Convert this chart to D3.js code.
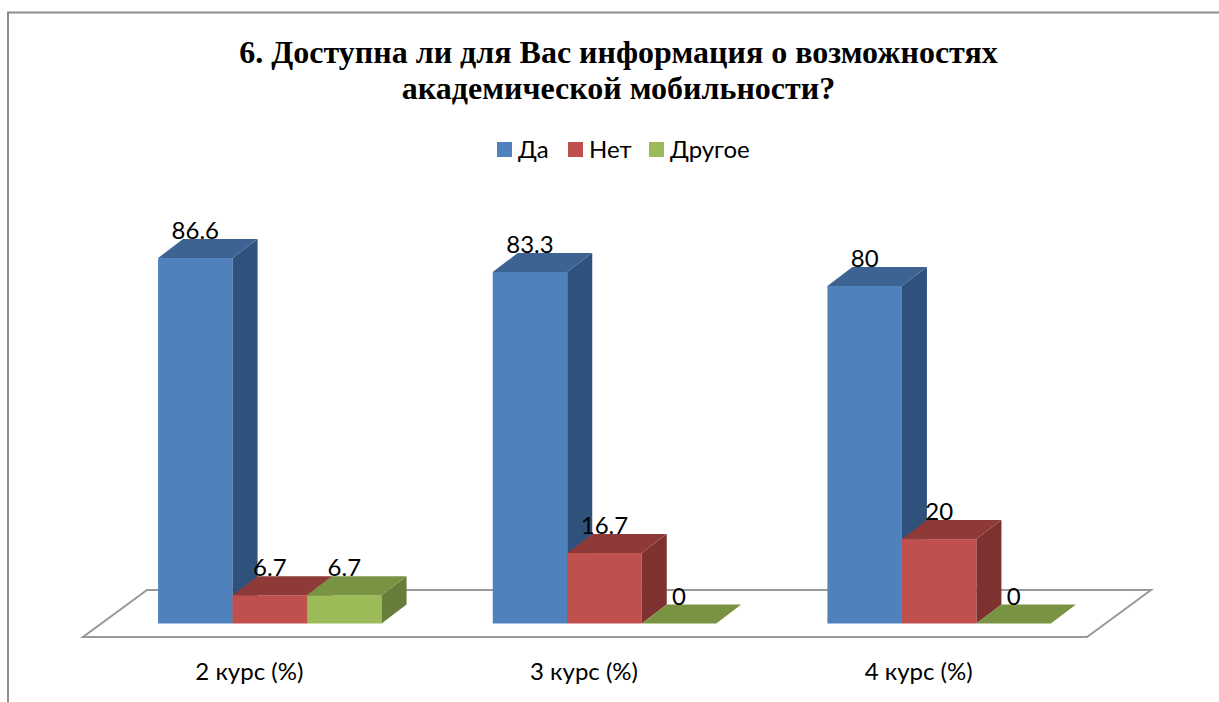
<!DOCTYPE html>
<html lang="ru">
<head>
<meta charset="utf-8">
<script src="https://cdn.jsdelivr.net/npm/d3@7/dist/d3.min.js"></script>
<style>
html,body{margin:0;padding:0;background:#fff;overflow:hidden}
svg{display:block}
.lbl{font-family:Lato,"Open Sans","Noto Sans",sans-serif;font-size:24px;fill:#000}
.title{font-family:"Liberation Serif",serif;font-weight:bold;font-size:32px;fill:#000}
</style>
</head>
<body>
<svg id="c" width="1219" height="702"></svg>
<script>
const categories = ["2 курс (%)", "3 курс (%)", "4 курс (%)"];
const seriesNames = ["Да", "Нет", "Другое"];
const yes = [86.6, 83.3, 80];
const no = [6.7, 16.7, 20];
const other = [6.7, 0, 0];
const seriesValues = [yes, no, other];
const titleLines = ["6. Доступна ли для Вас информация о возможностях", "академической мобильности?"];
const frontColors = ["#4f81bd", "#c0504d", "#9bbb59"];
const topColors = ["#3c6391", "#8e3a38", "#789342"];
const sideColors = ["#2f527d", "#7d3230", "#677d3a"];

const svg = d3.select("#c");
const depthX = 25, depthY = 19, baseY = 623.5;
const floorL = 83, floorR = 1087, floorFront = 637;
const floorDX = 64, floorDY = 47;

const x = d3.scaleBand().domain(categories).range([floorL, floorR]);
const barsWidth = 223.5, barsShift = 19.5;
const xInner = d3.scaleBand().domain(seriesNames).range([0, barsWidth]);
const y = d3.scaleLinear().domain([0, 100]).range([baseY, baseY - 422]);

// outer frame (top and left edges only are visible)
svg.append("path").attr("d", "M8,702V12.5H1219").attr("fill", "none")
  .attr("stroke", "#8c8c8c").attr("stroke-width", 2);

// title
svg.append("g").selectAll("text").data(titleLines).join("text")
  .attr("class", "title").attr("text-anchor", "middle")
  .attr("x", 618.5).attr("y", (d, i) => 63 + i * 36).text(d => d);

// legend
const legendX = [497, 568, 649];
const legend = svg.append("g").selectAll("g").data(seriesNames).join("g")
  .attr("transform", (d, i) => `translate(${legendX[i]},142)`);
legend.append("rect").attr("width", 15).attr("height", 15).attr("fill", (d, i) => frontColors[i]);
legend.append("text").attr("class", "lbl").attr("x", 21).attr("y", 15.5).text(d => d);

// floor
svg.append("path")
  .attr("d", d3.line()([[floorL, floorFront], [floorR, floorFront], [floorR + floorDX, floorFront - floorDY], [floorL + floorDX, floorFront - floorDY]]) + "Z")
  .attr("fill", "#fff").attr("stroke", "#999").attr("stroke-width", 2);

// bars
const poly = pts => d3.line()(pts) + "Z";
const rows = categories.flatMap((c, ci) => seriesNames.map((s, si) => ({c, s, si, v: seriesValues[si][ci]})));
const bars = svg.append("g").selectAll("g").data(rows).join("g");
const X0 = d => x(d.c) + barsShift + (x.bandwidth() - barsWidth) / 2 + xInner(d.s);
const X1 = d => X0(d) + xInner.bandwidth();
bars.filter(d => d.v > 0).append("rect")
  .attr("x", X0).attr("y", d => y(d.v))
  .attr("width", xInner.bandwidth()).attr("height", d => baseY - y(d.v))
  .attr("fill", d => frontColors[d.si]);
bars.filter(d => d.v > 0).append("path")
  .attr("d", d => poly([[X1(d), y(d.v)], [X1(d) + depthX, y(d.v) - depthY], [X1(d) + depthX, baseY - depthY], [X1(d), baseY]]))
  .attr("fill", d => sideColors[d.si]);
bars.append("path")
  .attr("d", d => poly([[X0(d), y(d.v)], [X0(d) + depthX, y(d.v) - depthY], [X1(d) + depthX, y(d.v) - depthY], [X1(d), y(d.v)]]))
  .attr("fill", d => topColors[d.si]);

// data labels
svg.append("g").selectAll("text").data(rows).join("text")
  .attr("class", "lbl").attr("text-anchor", "middle")
  .attr("x", d => (X0(d) + X1(d)) / 2).attr("y", d => y(d.v) - 19)
  .text(d => d.v);

// category axis
const axis = svg.append("g").attr("transform", `translate(0,${floorFront})`)
  .call(d3.axisBottom(x).tickSize(0).tickPadding(26));
axis.select(".domain").remove();
axis.selectAll("text").attr("class", "lbl").attr("dx", -1).attr("style", "font-family:Lato,'Open Sans','Noto Sans',sans-serif;font-size:24px;fill:#000");
</script>
</body>
</html>
